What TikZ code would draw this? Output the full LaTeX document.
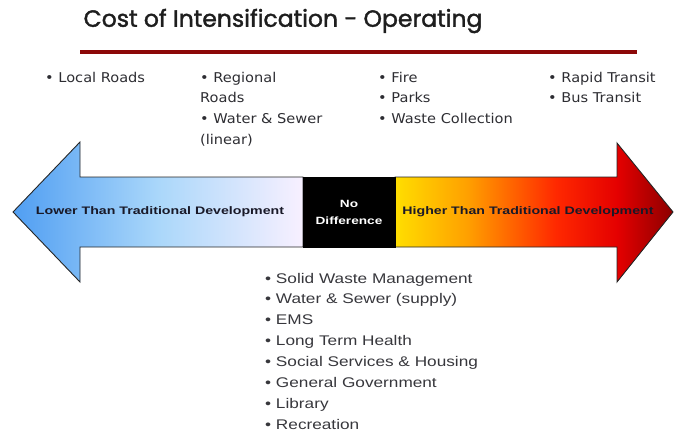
\documentclass[tikz,border=0pt]{standalone}
\usepackage{fontspec}
\setmainfont{Liberation Sans}
\newfontfamily\titlefont[FakeBold=1.6]{Poppins}
\newfontfamily\topfont[FakeStretch=1.08]{DejaVu Sans}
\newfontfamily\listfont[FakeStretch=1.23]{Liberation Sans}
\newfontfamily\lblfont[FakeStretch=1.3]{Liberation Sans}
\definecolor{titlegray}{RGB}{30,30,30}
\definecolor{rulered}{RGB}{140,8,8}
\definecolor{txtgray}{RGB}{45,45,50}
\definecolor{listgray}{RGB}{55,55,60}
\definecolor{lblcol}{RGB}{25,25,40}
\definecolor{lowA}{RGB}{80,158,242}
\definecolor{lowB}{RGB}{170,215,250}
\definecolor{lowC}{RGB}{248,240,255}
\definecolor{hiA}{RGB}{255,222,0}
\definecolor{hiB}{RGB}{255,160,0}
\definecolor{hiC}{RGB}{255,40,0}
\definecolor{hiD}{RGB}{228,0,0}
\definecolor{hiE}{RGB}{140,0,0}
\pgfdeclarehorizontalshading{lowshade}{100bp}{color(0bp)=(lowA); color(25bp)=(lowA); color(50bp)=(lowB); color(75bp)=(lowC); color(100bp)=(lowC)}
\pgfdeclarehorizontalshading{hishade}{100bp}{color(0bp)=(hiA); color(25bp)=(hiA); color(38bp)=(hiB); color(54bp)=(hiC); color(65bp)=(hiD); color(75bp)=(hiE); color(100bp)=(hiE)}
\begin{document}
\begin{tikzpicture}[x=1pt,y=-1pt,
  topitem/.style={anchor=base west, inner sep=0pt, text=txtgray, font=\topfont\fontsize{13.5}{15}\selectfont},
  listitem/.style={anchor=base west, inner sep=0pt, text=listgray, font=\listfont\fontsize{14}{16}\selectfont},
  arrowlbl/.style={inner sep=0pt, text=lblcol, font=\lblfont\bfseries\fontsize{10.9}{12}\selectfont},
  arrowshape/.style={draw=black!85, line width=0.9pt, line join=miter}]
\useasboundingbox (0,0) rectangle (678,434);
% title and rule
\node[inner sep=0pt, text=titlegray, font=\titlefont\fontsize{23.5}{25}\selectfont] (title) at (283,21) {Cost of Intensification - Operating};
\coordinate (ruleL) at (80,52);
\coordinate (ruleR) at (637,52);
\draw[line width=3.5pt, rulered] (ruleL) -- (ruleR);
% arrows
\path[arrowshape, shade, shading=lowshade] (13,212) -- (80,142) -- (80,177) -- (303,177) -- (303,247) -- (80,247) -- (80,282) -- cycle;
\path[arrowshape, shade, shading=hishade] (395,177) -- (617,177) -- (617,143) -- (673,212) -- (617,282) -- (617,247) -- (395,247) -- cycle;
\node[fill=black, draw=black, minimum width=92pt, minimum height=70pt, inner sep=0pt,
      align=center, text=white, font=\lblfont\bfseries\fontsize{10.5}{17}\selectfont] (nodiff) at (349,212) {No\\Difference};
\node[arrowlbl] (lower) at (160,212) {Lower Than Traditional Development};
\node[arrowlbl] (higher) at (528,212) {Higher Than Traditional Development};
% top lists
\node[topitem] (t1) at (45,82) {• Local Roads};
\node[topitem] (t2) at (200,82) {• Regional};
\node[topitem] (t3) at (200,102.7) {Roads};
\node[topitem] (t4) at (200,123.4) {• Water \& Sewer};
\node[topitem] (t5) at (200,144.1) {(linear)};
\node[topitem] (t6) at (378,82) {• Fire};
\node[topitem] (t7) at (378,102.7) {• Parks};
\node[topitem] (t8) at (378,123.4) {• Waste Collection};
\node[topitem] (t9) at (548,82) {• Rapid Transit};
\node[topitem] (t10) at (548,102.7) {• Bus Transit};
% bottom list
\foreach \txt [count=\i from 0] in {Solid Waste Management, Water \& Sewer (supply), EMS, Long Term Health, Social Services \& Housing, General Government, Library, Recreation}
  \node[listitem] (b\i) at (265,283+20.86*\i) {• \txt};
\end{tikzpicture}
\end{document}
